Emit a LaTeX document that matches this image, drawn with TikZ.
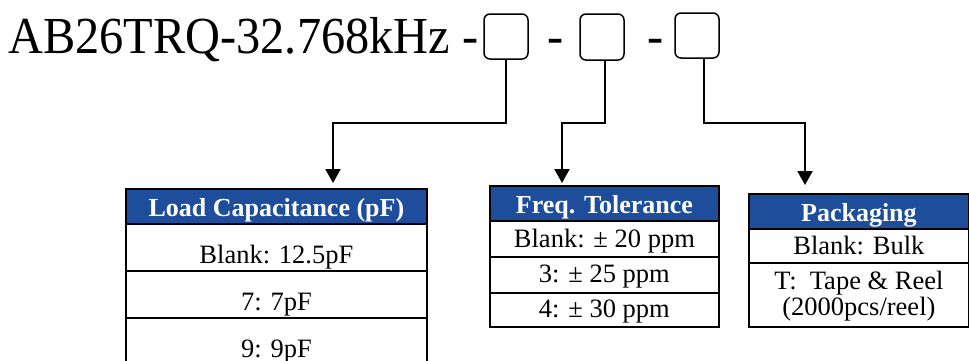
\documentclass[tikz,border=0pt]{standalone}
\usepackage{fontspec}
\setmainfont{Liberation Serif}
\usepackage{graphicx}
\usetikzlibrary{arrows.meta}
\definecolor{hdrblue}{RGB}{30,77,155}
\newcommand{\partfont}{\fontsize{52}{52}\selectfont}
\tikzset{code box/.style={draw, line width=1.5pt, rounded corners=6pt, minimum width=44pt, minimum height=45pt, inner sep=0}}
\tikzset{feed/.style={line width=2pt, -{Triangle[width=15pt,length=14pt]}}}
\tikzset{head/.style={draw, line width=1.8pt, fill=hdrblue, text=white, inner sep=0, anchor=north west, minimum height=35pt, text height=21pt, text depth=0pt, font=\fontsize{26}{28}\selectfont\bfseries}}
\tikzset{cell/.style={draw, line width=1.8pt, inner sep=0, anchor=north west, text depth=0pt, font=\fontsize{26.5}{26.7}\selectfont}}

\begin{document}
\begin{tikzpicture}[x=1pt, y=-1pt]
  \useasboundingbox (0,0) rectangle (969,360);

  % part number line
  \node[anchor=base west, inner sep=0, font=\partfont] at (8,53.5) (part) {\scalebox{0.93}[1]{AB26TRQ-32.768kHz -}};
  \node[code box] at (506,36.5) (code1) {};
  \node[anchor=base, inner sep=0, font=\partfont] at (555.5,53.5) (dash1) {\scalebox{0.93}[1]{-}};
  \node[code box, minimum height=46pt] at (602,37) (code2) {};
  \node[anchor=base, inner sep=0, font=\partfont] at (656,53.5) (dash2) {\scalebox{0.93}[1]{-}};
  \node[code box] at (697,35.5) (code3) {};

  % table for load capacitance
  \node[head, minimum width=301pt] at (125,188) (load) {Load Capacitance (pF)};
  \node[cell, minimum width=301pt, minimum height=47pt, text height=33pt] at (125,223) (load1) {Blank: 12.5pF};
  \node[cell, minimum width=301pt, minimum height=47pt, text height=33pt] at (125,270) (load2) {7: 7pF};
  \node[cell, minimum width=301pt, minimum height=47pt, text height=33pt] at (125,317) (load3) {9: 9pF};

  % table for tolerance
  \node[head, minimum width=229pt] at (489,185) (tol) {Freq. Tolerance};
  \node[cell, minimum width=229pt, minimum height=36pt, text height=17pt] at (489,220) (tol1) {Blank: ± 20 ppm};
  \node[cell, minimum width=229pt, minimum height=36pt, text height=16pt] at (489,256) (tol2) {3: ± 25 ppm};
  \node[cell, minimum width=229pt, minimum height=34pt, text height=15pt] at (489,292) (tol3) {4: ± 30 ppm};

  % table for packaging
  \node[head, minimum width=220pt] at (748,193) (pack) {Packaging};
  \node[cell, minimum width=220pt, minimum height=34pt, text height=18pt] at (748,228) (pack1) {Blank: Bulk};
  \node[cell, minimum width=220pt, minimum height=64pt, text height=42pt, align=center] at (748,262) (pack2) {T:~ Tape \& Reel\\(2000pcs/reel)};

  % connectors
  \coordinate (bend) at (0,123);
  \coordinate (out1) at (code1.south);
  \coordinate (out2) at ([xshift=3pt]code2.south);
  \coordinate (out3) at ([xshift=7pt]code3.south);
  \coordinate (tip1) at (333,183);
  \coordinate (tip2) at (562,183);
  \coordinate (tip3) at (805,185);
  \draw[feed] (out1) -- (out1 |- bend) -| (tip1);
  \draw[feed] (out2) -- (out2 |- bend) -| (tip2);
  \draw[feed] (out3) -- (out3 |- bend) -| (tip3);
\end{tikzpicture}
\end{document}
